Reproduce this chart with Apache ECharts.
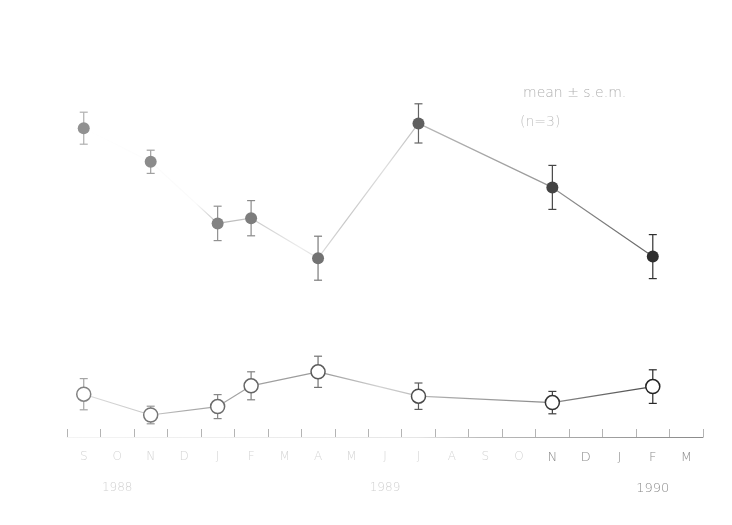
<!DOCTYPE html>
<html>
<head>
<meta charset="utf-8">
<script src="https://cdn.jsdelivr.net/npm/echarts@6/dist/echarts.min.js"></script>
<style>
  html, body { margin: 0; padding: 0; background: #ffffff; }
  #chart { width: 732px; height: 525px; }
</style>
</head>
<body>
<div id="chart"></div>
<script>
// Monthly axis, September 1988 to March 1990
const months = ['S','O','N','D','J','F','M','A','M','J','J','A','S','O','N','D','J','F','M'];
const yearLabels = ['', '1988', '', '', '', '', '', '', '', '1989', '', '', '', '', '', '', '', '1990', ''];

// Sampling months (index into months)
const sampleIdx = [0, 2, 4, 5, 7, 10, 14, 17];

// Filled symbols: mean and s.e.m.
const filledMean = [77.2, 68.8, 53.4, 54.7, 44.7, 78.4, 62.4, 45.1];
const filledSem  = [4.0, 2.9, 4.3, 4.4, 5.5, 4.9, 5.5, 5.5];

// Open symbols: mean and s.e.m.
const openMean = [10.7, 5.5, 7.6, 12.8, 16.3, 10.2, 8.6, 12.6];
const openSem  = [3.9, 2.2, 3.0, 3.5, 3.9, 3.3, 2.8, 4.2];

const chart = echarts.init(document.getElementById('chart'), null, { renderer: 'canvas' });

// ink gets darker towards the right of the sheet
function grey(frac, light, dark) {
  const v = Math.round(light - (light - dark) * frac);
  return 'rgb(' + v + ',' + v + ',' + v + ')';
}
const lastMonth = months.length - 1;

const pointsOf = (means) => sampleIdx.map((m, i) => [m, means[i]]);
const barsOf = (means, sems) => sampleIdx.map((m, i) => [m, means[i], sems[i]]);

function errorBars(light, dark) {
  return function (params, api) {
    const x = api.value(0), m = api.value(1), s = api.value(2);
    const top = api.coord([x, m + s]);
    const bot = api.coord([x, m - s]);
    const c = grey(x / lastMonth, light, dark);
    const st = { stroke: c, lineWidth: 1.2 };
    return {
      type: 'group',
      children: [
        { type: 'line', shape: { x1: top[0], y1: top[1], x2: bot[0], y2: bot[1] }, style: st },
        { type: 'line', shape: { x1: top[0] - 4, y1: top[1], x2: top[0] + 4, y2: top[1] }, style: st },
        { type: 'line', shape: { x1: bot[0] - 4, y1: bot[1], x2: bot[0] + 4, y2: bot[1] }, style: st }
      ]
    };
  };
}

const filledLine = new echarts.graphic.LinearGradient(0, 0, 1, 0, [
  { offset: 0.00, color: '#ffffff' },
  { offset: 0.20, color: '#fafafa' },
  { offset: 0.24, color: '#b8b8b8' },
  { offset: 0.29, color: '#c4c4c4' },
  { offset: 0.38, color: '#ececec' },
  { offset: 0.46, color: '#c8c8c8' },
  { offset: 0.53, color: '#dedede' },
  { offset: 0.60, color: '#b5b5b5' },
  { offset: 0.80, color: '#999999' },
  { offset: 1.00, color: '#666666' }
]);
const openLine = new echarts.graphic.LinearGradient(0, 0, 1, 0, [
  { offset: 0.00, color: '#dcdcdc' },
  { offset: 0.12, color: '#c8c8c8' },
  { offset: 0.18, color: '#aaaaaa' },
  { offset: 0.42, color: '#999999' },
  { offset: 0.52, color: '#d2d2d2' },
  { offset: 0.64, color: '#a8a8a8' },
  { offset: 0.82, color: '#8a8a8a' },
  { offset: 1.00, color: '#4a4a4a' }
]);
const axisInk = new echarts.graphic.LinearGradient(0, 0, 1, 0, [
  { offset: 0.00, color: '#f4f4f4' },
  { offset: 0.55, color: '#e6e6e6' },
  { offset: 0.65, color: '#bbbbbb' },
  { offset: 1.00, color: '#8a8a8a' }
]);

const option = {
  backgroundColor: '#ffffff',
  animation: false,
  textStyle: { fontFamily: 'DejaVu Sans' },
  grid: { left: 67, right: 29, top: 37, bottom: 88 },
  xAxis: [
    {
      type: 'category',
      data: months,
      boundaryGap: true,
      axisLine: { show: true, lineStyle: { color: axisInk, width: 1 } },
      axisTick: { show: true, inside: true, length: 8, lineStyle: { color: '#b4b4b4', width: 1 } },
      axisLabel: {
        interval: 0,
        margin: 14,
        fontSize: 13,
        fontFamily: 'DejaVu Sans',
        fontWeight: 'lighter',
        formatter: (v, i) => (i >= 14 ? '{d|' + v + '}' : '{f|' + v + '}'),
        rich: {
          d: { color: '#8c8c8c', fontSize: 13, fontWeight: 'lighter' },
          f: { color: '#d4d4d4', fontSize: 12, fontWeight: 'lighter' }
        }
      },
      splitLine: { show: false }
    },
    {
      type: 'category',
      data: yearLabels,
      position: 'bottom',
      offset: 31,
      boundaryGap: true,
      axisLine: { show: false },
      axisTick: { show: false },
      axisLabel: {
        interval: 0,
        margin: 14,
        fontSize: 13,
        fontWeight: 'lighter',
        formatter: (v, i) => (v === '' ? '' : (i >= 14 ? '{d|' + v + '}' : '{f|' + v + '}')),
        rich: {
          d: { color: '#8c8c8c', fontSize: 13, fontWeight: 'lighter' },
          f: { color: '#d0d0d0', fontSize: 12, fontWeight: 'lighter' }
        }
      }
    }
  ],
  yAxis: { type: 'value', min: 0, max: 100, show: false, splitLine: { show: false } },
  graphic: [
    { type: 'text', left: 523, top: 86, style: { text: 'mean ± s.e.m.', fill: '#b0b0b0', font: 'lighter 14px "DejaVu Sans"' } },
    { type: 'text', left: 520, top: 115, style: { text: '(n=3)', fill: '#c0c0c0', font: 'lighter 14px "DejaVu Sans"' } }
  ],
  series: [
    {
      type: 'custom',
      xAxisIndex: 0,
      renderItem: errorBars(175, 40),
      data: barsOf(filledMean, filledSem),
      encode: { x: 0, y: 1 },
      z: 1
    },
    {
      type: 'custom',
      xAxisIndex: 0,
      renderItem: errorBars(165, 35),
      data: barsOf(openMean, openSem),
      encode: { x: 0, y: 1 },
      z: 1
    },
    {
      type: 'line',
      xAxisIndex: 0,
      data: pointsOf(filledMean),
      symbol: 'circle',
      symbolSize: 12,
      lineStyle: { color: filledLine, width: 1.2 },
      itemStyle: {
        color: (p) => grey(Math.pow(p.data[0] / lastMonth, 1.3), 145, 38),
        borderWidth: 0
      },
      z: 3
    },
    {
      type: 'line',
      xAxisIndex: 0,
      data: pointsOf(openMean),
      symbol: 'circle',
      symbolSize: 14,
      lineStyle: { color: openLine, width: 1.2 },
      itemStyle: {
        color: '#ffffff',
        borderColor: (p) => grey(p.data[0] / lastMonth, 130, 30),
        borderWidth: 1.5
      },
      z: 3
    }
  ]
};

// borderColor does not take a callback, so set it per point
option.series[3].data = pointsOf(openMean).map((d) => ({
  value: d,
  itemStyle: { borderColor: grey(d[0] / lastMonth, 130, 30) }
}));
option.series[3].itemStyle = { color: '#ffffff', borderWidth: 1.5 };

chart.setOption(option);
</script>
</body>
</html>
